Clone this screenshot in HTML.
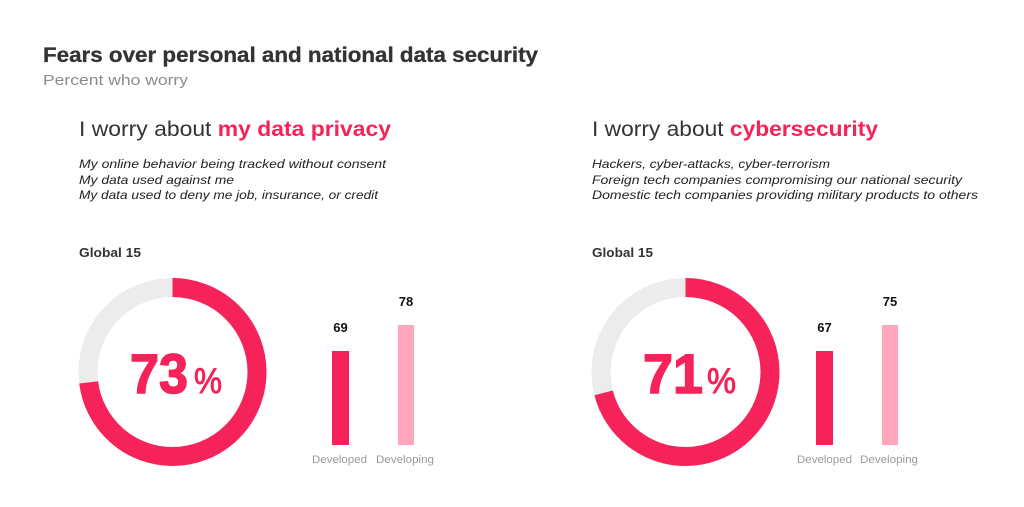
<!DOCTYPE html>
<html>
<head>
<meta charset="utf-8">
<style>
  html,body{margin:0;padding:0;background:#fff;}
  svg{display:block;}
  text{font-family:"Liberation Sans",Arial,sans-serif;}
</style>
</head>
<body>
<svg width="1024" height="507" viewBox="0 0 1024 507" xmlns="http://www.w3.org/2000/svg">
  <rect width="1024" height="507" fill="#ffffff"/>

  <!-- Title -->
  <text x="43" y="62" font-size="21" font-weight="bold" fill="#333333" stroke="#333333" stroke-width="0.3" textLength="495" lengthAdjust="spacingAndGlyphs">Fears over personal and national data security</text>
  <text x="43" y="85" font-size="15" fill="#8c8c8c" textLength="145" lengthAdjust="spacingAndGlyphs">Percent who worry</text>

  <!-- LEFT PANEL -->
  <text x="79" y="136" font-size="21" fill="#333333" textLength="312" lengthAdjust="spacingAndGlyphs">I worry about <tspan font-weight="bold" fill="#f5235a">my data privacy</tspan></text>
  <g font-size="12" font-style="italic" fill="#222222">
    <text x="79" y="168" textLength="307" lengthAdjust="spacingAndGlyphs">My online behavior being tracked without consent</text>
    <text x="79" y="184" textLength="155" lengthAdjust="spacingAndGlyphs">My data used against me</text>
    <text x="79" y="199" textLength="299" lengthAdjust="spacingAndGlyphs">My data used to deny me job, insurance, or credit</text>
  </g>
  <text x="79" y="257" font-size="13" font-weight="bold" fill="#333333" textLength="62" lengthAdjust="spacingAndGlyphs">Global 15</text>

  <!-- Left donut -->
  <circle cx="172.5" cy="372" r="84.5" fill="none" stroke="#ececec" stroke-width="19"/>
  <circle cx="172.5" cy="372" r="84.5" fill="none" stroke="#f5235a" stroke-width="19"
          stroke-dasharray="387.6 1000" transform="rotate(-90 172.5 372)"/>
  <text x="130" y="393" font-size="56" font-weight="bold" fill="#f5235a" stroke="#f5235a" stroke-width="1.5" textLength="58" lengthAdjust="spacingAndGlyphs">73</text>
  <text x="194" y="393" font-size="35" fill="#f5235a" stroke="#f5235a" stroke-width="0.9" textLength="28" lengthAdjust="spacingAndGlyphs">%</text>

  <!-- Left bars -->
  <rect x="332" y="351" width="17" height="94" fill="#f5235a"/>
  <rect x="398" y="325" width="16" height="120" fill="#ffa6bb"/>
  <text x="340.5" y="332" font-size="13" font-weight="bold" fill="#111111" text-anchor="middle">69</text>
  <text x="406" y="306" font-size="13" font-weight="bold" fill="#111111" text-anchor="middle">78</text>
  <text x="312" y="463" font-size="11" fill="#9a9a9a" textLength="55" lengthAdjust="spacingAndGlyphs">Developed</text>
  <text x="376" y="463" font-size="11" fill="#9a9a9a" textLength="58" lengthAdjust="spacingAndGlyphs">Developing</text>

  <!-- RIGHT PANEL -->
  <text x="592" y="136" font-size="21" fill="#333333" textLength="286" lengthAdjust="spacingAndGlyphs">I worry about <tspan font-weight="bold" fill="#f5235a">cybersecurity</tspan></text>
  <g font-size="12" font-style="italic" fill="#222222">
    <text x="592" y="168" textLength="238" lengthAdjust="spacingAndGlyphs">Hackers, cyber-attacks, cyber-terrorism</text>
    <text x="592" y="184" textLength="370" lengthAdjust="spacingAndGlyphs">Foreign tech companies compromising our national security</text>
    <text x="592" y="199" textLength="386" lengthAdjust="spacingAndGlyphs">Domestic tech companies providing military products to others</text>
  </g>
  <text x="592" y="257" font-size="13" font-weight="bold" fill="#333333" textLength="61" lengthAdjust="spacingAndGlyphs">Global 15</text>

  <!-- Right donut -->
  <circle cx="685.5" cy="372" r="84.5" fill="none" stroke="#ececec" stroke-width="19"/>
  <circle cx="685.5" cy="372" r="84.5" fill="none" stroke="#f5235a" stroke-width="19"
          stroke-dasharray="376.9 1000" transform="rotate(-90 685.5 372)"/>
  <text x="643" y="393" font-size="56" font-weight="bold" fill="#f5235a" stroke="#f5235a" stroke-width="1.5" textLength="60" lengthAdjust="spacingAndGlyphs">71</text>
  <text x="707" y="393" font-size="35" fill="#f5235a" stroke="#f5235a" stroke-width="0.9" textLength="29" lengthAdjust="spacingAndGlyphs">%</text>

  <!-- Right bars -->
  <rect x="816" y="351" width="17" height="94" fill="#f5235a"/>
  <rect x="882" y="325" width="16" height="120" fill="#ffa6bb"/>
  <text x="824.5" y="332" font-size="13" font-weight="bold" fill="#111111" text-anchor="middle">67</text>
  <text x="890" y="306" font-size="13" font-weight="bold" fill="#111111" text-anchor="middle">75</text>
  <text x="797" y="463" font-size="11" fill="#9a9a9a" textLength="55" lengthAdjust="spacingAndGlyphs">Developed</text>
  <text x="860" y="463" font-size="11" fill="#9a9a9a" textLength="58" lengthAdjust="spacingAndGlyphs">Developing</text>
</svg>
</body>
</html>
